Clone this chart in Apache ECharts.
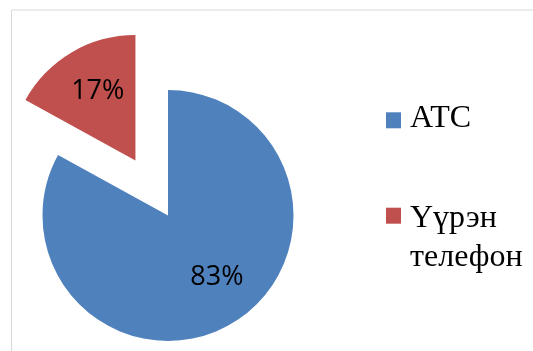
<!DOCTYPE html>
<html>
<head>
<meta charset="utf-8">
<script src="https://cdn.jsdelivr.net/npm/echarts@6/dist/echarts.min.js"></script>
<style>
html,body{margin:0;padding:0;background:#fff;}
#chart{width:533px;height:351px;}
</style>
</head>
<body>
<div id="chart"></div>
<script>
const categories = ['АТС', 'Үүрэн телефон'];
const values = [83, 17];
const colors = ['#4F81BD', '#C0504D'];

const chart = echarts.init(document.getElementById('chart'), null, {renderer: 'canvas'});

const serif = 'Liberation Serif';
const richLegend = {
  s: {fontFamily: serif, fontSize: 32, lineHeight: 39, color: '#000', padding: [0, 0, 0, 4]}
};
function legendFmt(name) {
  return name.split(' ').map(function (w) { return '{s|' + w + '}'; }).join('\n');
}

const option = {
  animation: false,
  backgroundColor: '#fff',
  color: colors,
  textStyle: {fontFamily: serif},
  graphic: [{
    type: 'rect',
    silent: true,
    shape: {x: 11.5, y: 10, width: 600, height: 400},
    style: {fill: 'none', stroke: '#d9d9d9', lineWidth: 1}
  }],
  legend: [{
    orient: 'vertical',
    left: 386,
    top: 88.3,
    padding: 0,
    itemWidth: 15,
    itemHeight: 61,
    selectedMode: false,
    formatter: legendFmt,
    textStyle: {fontFamily: serif, fontSize: 32, lineHeight: 39, color: '#000', rich: richLegend},
    data: [{name: categories[0], icon: 'path://M0,0 M0,24 h15 v16 h-15 z M0,61'}]
  }, {
    orient: 'vertical',
    left: 386,
    top: 199.2,
    padding: 0,
    itemWidth: 15,
    itemHeight: 61,
    selectedMode: false,
    formatter: legendFmt,
    textStyle: {fontFamily: serif, fontSize: 32, lineHeight: 39, color: '#000', rich: richLegend},
    data: [{name: categories[1], icon: 'path://M0,0 h15 v16 h-15 z M0,61'}]
  }],
  series: [{
    type: 'pie',
    center: [168, 215.5],
    radius: 125.5,
    startAngle: 90,
    clockwise: true,
    selectedMode: 'single',
    selectedOffset: 64,
    avoidLabelOverlap: false,
    emphasis: {disabled: true},
    itemStyle: {borderWidth: 0},
    label: {
      show: true,
      position: 'inside',
      fontFamily: 'Open Sans',
      fontSize: 27,
      color: '#000',
      formatter: function (p) { return Math.round(p.percent) + '%'; }
    },
    select: {
      label: {
        show: true,
        position: 'inside',
        fontFamily: 'Open Sans',
        fontSize: 27,
        color: '#000'
      }
    },
    labelLine: {show: false},
    data: categories.map(function (c, i) {
      const item = {name: c, value: values[i]};
      if (i === 0) {
        item.label = {offset: [15.5, 5]};
      } else {
        item.selected = true;
        item.select = {label: {offset: [17.3, -6.3]}};
      }
      return item;
    })
  }]
};
chart.setOption(option);
</script>
</body>
</html>
